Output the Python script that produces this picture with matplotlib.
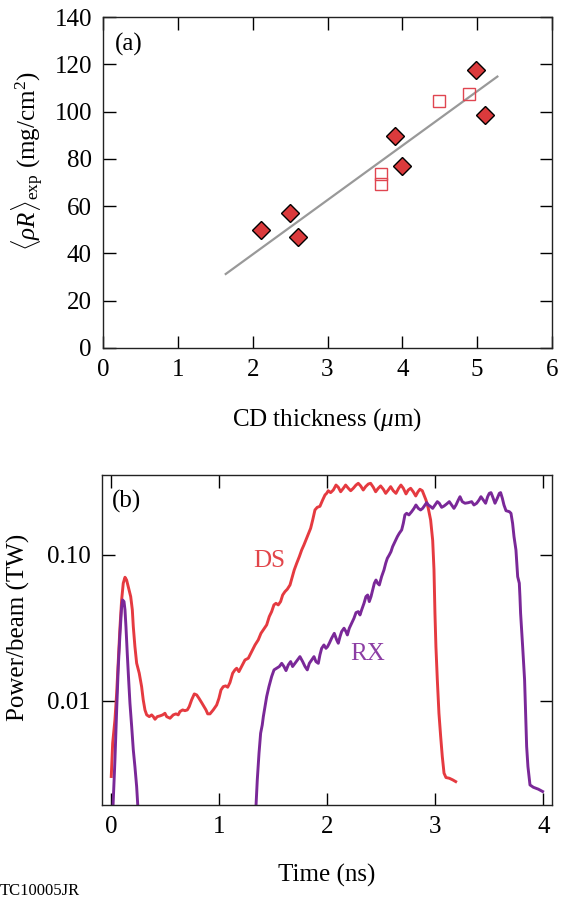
import matplotlib
matplotlib.use("Agg")
import matplotlib.pyplot as plt
import numpy as np
from matplotlib.ticker import FixedLocator, FixedFormatter, NullLocator

# ---------------- data: panel (a) ----------------
cd_thickness_diamond = [2.11, 2.50, 2.60, 3.90, 3.99, 4.99, 5.10]
rhoR_diamond = [50.0, 57.0, 47.0, 89.8, 77.0, 117.7, 98.7]
cd_thickness_square = [3.71, 3.71, 4.49, 4.89]
rhoR_square = [73.7, 69.4, 104.5, 107.3]
fit_x = [1.64, 5.27]
fit_y = [31.3, 114.8]
xticks_a = [0, 1, 2, 3, 4, 5, 6]
yticks_a = [0, 20, 40, 60, 80, 100, 120, 140]

# ---------------- data: panel (b) ----------------
ds_time = [0.000, 0.013, 0.034, 0.050, 0.065, 0.081, 0.096, 0.111, 0.127, 0.142,
           0.157, 0.180, 0.195, 0.204, 0.219, 0.235, 0.259, 0.281, 0.296, 0.312,
           0.328, 0.352, 0.374, 0.389, 0.405, 0.426, 0.451, 0.476, 0.497, 0.513,
           0.544, 0.574, 0.599, 0.620, 0.636, 0.661, 0.682, 0.704, 0.722, 0.744,
           0.769, 0.791, 0.812, 0.837, 0.858, 0.877, 0.893, 0.914, 0.944, 0.976,
           0.997, 1.016, 1.037, 1.059, 1.078, 1.099, 1.124, 1.145, 1.161, 1.182,
           1.207, 1.238, 1.269, 1.300, 1.331, 1.361, 1.386, 1.407, 1.439, 1.463,
           1.485, 1.506, 1.525, 1.546, 1.568, 1.587, 1.608, 1.630, 1.655, 1.676,
           1.694, 1.717, 1.741, 1.763, 1.784, 1.809, 1.828, 1.846, 1.865, 1.886,
           1.907, 1.932, 1.957, 1.979, 1.994, 2.009, 2.031, 2.056, 2.081, 2.102,
           2.124, 2.149, 2.170, 2.195, 2.217, 2.241, 2.266, 2.287, 2.309, 2.333,
           2.355, 2.380, 2.401, 2.426, 2.448, 2.472, 2.494, 2.519, 2.541, 2.565,
           2.587, 2.611, 2.636, 2.661, 2.682, 2.704, 2.729, 2.750, 2.772, 2.796,
           2.819, 2.840, 2.858, 2.880, 2.895, 2.914, 2.935, 2.957, 2.976, 2.988,
           2.997, 3.006, 3.019, 3.034, 3.050, 3.065, 3.081, 3.099, 3.130, 3.161,
           3.189]
ds_log10_power = [-2.521, -2.292, -2.132, -1.949, -1.721, -1.492, -1.309, -1.194, -1.153, -1.172,
                  -1.217, -1.286, -1.377, -1.492, -1.629, -1.743, -1.812, -1.904, -1.995, -2.064,
                  -2.098, -2.110, -2.098, -2.110, -2.128, -2.110, -2.105, -2.098, -2.087, -2.110,
                  -2.121, -2.098, -2.091, -2.098, -2.075, -2.064, -2.069, -2.064, -2.041, -1.995,
                  -1.954, -1.961, -1.984, -2.014, -2.041, -2.064, -2.091, -2.091, -2.064, -2.030,
                  -1.984, -1.927, -1.904, -1.899, -1.908, -1.876, -1.812, -1.789, -1.778, -1.801,
                  -1.766, -1.721, -1.709, -1.664, -1.618, -1.583, -1.538, -1.515, -1.480, -1.423,
                  -1.389, -1.343, -1.332, -1.343, -1.320, -1.275, -1.252, -1.235, -1.206, -1.149,
                  -1.103, -1.057, -1.012, -0.966, -0.931, -0.885, -0.851, -0.817, -0.760, -0.691,
                  -0.673, -0.666, -0.623, -0.588, -0.577, -0.559, -0.572, -0.554, -0.520, -0.535,
                  -0.566, -0.542, -0.520, -0.542, -0.559, -0.542, -0.520, -0.508, -0.526, -0.554,
                  -0.531, -0.513, -0.508, -0.535, -0.566, -0.542, -0.526, -0.549, -0.577, -0.554,
                  -0.531, -0.559, -0.577, -0.542, -0.520, -0.542, -0.581, -0.554, -0.542, -0.566,
                  -0.595, -0.566, -0.549, -0.559, -0.588, -0.623, -0.679, -0.760, -0.900, -1.100,
                  -1.400, -1.629, -1.858, -2.087, -2.247, -2.384, -2.498, -2.528, -2.533, -2.544,
                  -2.556]

rx_pre_time = [0.012, 0.034, 0.050, 0.065, 0.081, 0.096, 0.105, 0.118, 0.127, 0.136,
               0.148, 0.161, 0.173, 0.189, 0.204, 0.219, 0.235, 0.252]
rx_pre_log10_power = [-2.800, -2.407, -2.064, -1.767, -1.538, -1.355, -1.309, -1.320, -1.377, -1.492,
                      -1.675, -1.858, -2.018, -2.178, -2.338, -2.453, -2.590, -2.800]

rx_main_time = [1.335, 1.352, 1.368, 1.383, 1.398, 1.408, 1.423, 1.439, 1.460, 1.485,
                1.507, 1.531, 1.556, 1.578, 1.599, 1.618, 1.639, 1.661, 1.679, 1.701,
                1.723, 1.747, 1.772, 1.794, 1.815, 1.834, 1.855, 1.877, 1.895, 1.917,
                1.932, 1.948, 1.969, 1.988, 2.003, 2.019, 2.040, 2.065, 2.087, 2.102,
                2.118, 2.133, 2.155, 2.173, 2.186, 2.204, 2.226, 2.247, 2.266, 2.287,
                2.303, 2.318, 2.340, 2.358, 2.374, 2.389, 2.405, 2.420, 2.436, 2.451,
                2.466, 2.482, 2.503, 2.525, 2.541, 2.556, 2.574, 2.590, 2.605, 2.627,
                2.649, 2.667, 2.689, 2.704, 2.719, 2.735, 2.756, 2.781, 2.803, 2.821,
                2.843, 2.864, 2.883, 2.905, 2.920, 2.936, 2.957, 2.976, 2.997, 3.019,
                3.037, 3.059, 3.081, 3.105, 3.130, 3.152, 3.173, 3.192, 3.213, 3.229,
                3.250, 3.275, 3.306, 3.337, 3.358, 3.383, 3.405, 3.423, 3.445, 3.466,
                3.485, 3.500, 3.516, 3.531, 3.553, 3.574, 3.593, 3.605, 3.621, 3.636,
                3.655, 3.686, 3.701, 3.716, 3.729, 3.747, 3.753, 3.763, 3.778, 3.784,
                3.790, 3.800, 3.809, 3.818, 3.827, 3.837, 3.846, 3.858, 3.877, 3.908,
                3.954, 3.994]
rx_main_log10_power = [-2.800, -2.544, -2.361, -2.224, -2.167, -2.110, -2.041, -1.972, -1.904, -1.835,
                       -1.789, -1.778, -1.766, -1.744, -1.766, -1.794, -1.755, -1.732, -1.766, -1.744,
                       -1.721, -1.698, -1.732, -1.766, -1.789, -1.744, -1.721, -1.698, -1.732, -1.744,
                       -1.686, -1.641, -1.618, -1.641, -1.629, -1.606, -1.572, -1.538, -1.583, -1.606,
                       -1.561, -1.526, -1.503, -1.526, -1.549, -1.503, -1.469, -1.435, -1.396, -1.389,
                       -1.412, -1.378, -1.332, -1.286, -1.275, -1.320, -1.286, -1.240, -1.194, -1.172,
                       -1.194, -1.206, -1.149, -1.103, -1.057, -1.023, -1.000, -0.977, -0.943, -0.908,
                       -0.874, -0.851, -0.828, -0.783, -0.725, -0.714, -0.725, -0.703, -0.680, -0.657,
                       -0.680, -0.691, -0.680, -0.657, -0.641, -0.657, -0.668, -0.680, -0.657, -0.634,
                       -0.645, -0.673, -0.664, -0.650, -0.634, -0.657, -0.680, -0.657, -0.623, -0.600,
                       -0.634, -0.645, -0.641, -0.634, -0.657, -0.645, -0.623, -0.600, -0.623, -0.645,
                       -0.600, -0.577, -0.572, -0.600, -0.645, -0.611, -0.577, -0.572, -0.611, -0.657,
                       -0.696, -0.703, -0.714, -0.783, -0.874, -0.966, -1.034, -1.149, -1.194, -1.286,
                       -1.400, -1.515, -1.629, -1.744, -1.858, -2.087, -2.315, -2.453, -2.579, -2.595,
                       -2.608, -2.624]
xticks_b = [0, 1, 2, 3, 4]
yticks_b = [0.01, 0.10]
yticklabels_b = ["0.01", "0.10"]

# ---------------- style ----------------
plt.rcParams.update({
    "font.family": ["Liberation Serif", "DejaVu Serif"],
    "mathtext.fontset": "custom",
    "mathtext.rm": "Liberation Serif",
    "mathtext.it": "Liberation Serif:italic",
    "mathtext.bf": "Liberation Serif:bold",
    "font.size": 18,
})

RED_LINE = "#e53a40"
PURPLE_LINE = "#7a2898"
RED_TEXT = "#e2454a"
PURPLE_TEXT = "#8c3ea4"

W, H = 568, 898
fig = plt.figure(figsize=(W / 100, H / 100), dpi=100)
ax1 = fig.add_axes([103 / W, 1 - 348 / H, 449 / W, 331 / H])
ax2 = fig.add_axes([102.3 / W, 1 - 805 / H, 449.4 / W, 330 / H])

for ax in (ax1, ax2):
    ax.tick_params(direction="in", length=9, width=1, top=True, right=True,
                   labelsize=18, pad=8)
    for s in ax.spines.values():
        s.set_linewidth(1.0)
        s.set_color("#222222")

# ---- panel (a)
ax1.plot(fit_x, fit_y, color="#999999", lw=1.6, zorder=2)
ax1.plot(cd_thickness_square, rhoR_square, linestyle="none", marker="s", ms=9,
         mfc="none", mec="#e04550", mew=1.0, zorder=3)
ax1.plot(cd_thickness_diamond, rhoR_diamond, linestyle="none", marker="D", ms=9,
         mfc="#db3a3c", mec="black", mew=1.0, zorder=4)
ax1.set_xlim(0, 6)
ax1.set_ylim(0, 140)
ax1.set_xticks(xticks_a)
ax1.set_yticks(yticks_a)
ax1.text(0.027, 0.918, "(a)", transform=ax1.transAxes, ha="left", va="center")

# ---- panel (b)
ax2.set_yscale("log")
ax2.plot(ds_time, np.power(10.0, ds_log10_power), color=RED_LINE, lw=2.1)
ax2.plot(rx_pre_time, np.power(10.0, rx_pre_log10_power), color=PURPLE_LINE, lw=2.1)
ax2.plot(rx_main_time, np.power(10.0, rx_main_log10_power), color=PURPLE_LINE, lw=2.1)
ax2.set_xlim(-0.083, 4.078)
ax2.set_ylim(0.00192, 0.354)
ax2.set_xticks(xticks_b)
ax2.yaxis.set_major_locator(FixedLocator(yticks_b))
ax2.yaxis.set_major_formatter(FixedFormatter(yticklabels_b))
ax2.yaxis.set_minor_locator(NullLocator())
ax2.text(0.021, 0.921, "(b)", transform=ax2.transAxes, ha="left", va="center")
ax2.text(1.46, 0.0828, "DS", color=RED_TEXT, ha="center", va="baseline")
ax2.text(2.37, 0.0190, "RX", color=PURPLE_TEXT, ha="center", va="baseline")

# ---- axis labels
fig.text(28 / W, 1 - 161 / H, r"$\langle\rho R\rangle_{\mathrm{exp}}$ (mg/cm$^2$)",
         rotation=90, ha="center", va="center")
fig.text(327 / W, 1 - 420 / H, r"CD thickness ($\mu$m)", ha="center", va="center")
fig.text(18 / W, 1 - 627 / H, "Power/beam (TW)", rotation=90, ha="center", va="center")
fig.text(327 / W, 1 - 875 / H, "Time (ns)", ha="center", va="center")
fig.text(0.0, 1 - 891 / H, "TC10005JR", fontsize=12, ha="left", va="center")

fig.savefig("out.png", dpi=100)
